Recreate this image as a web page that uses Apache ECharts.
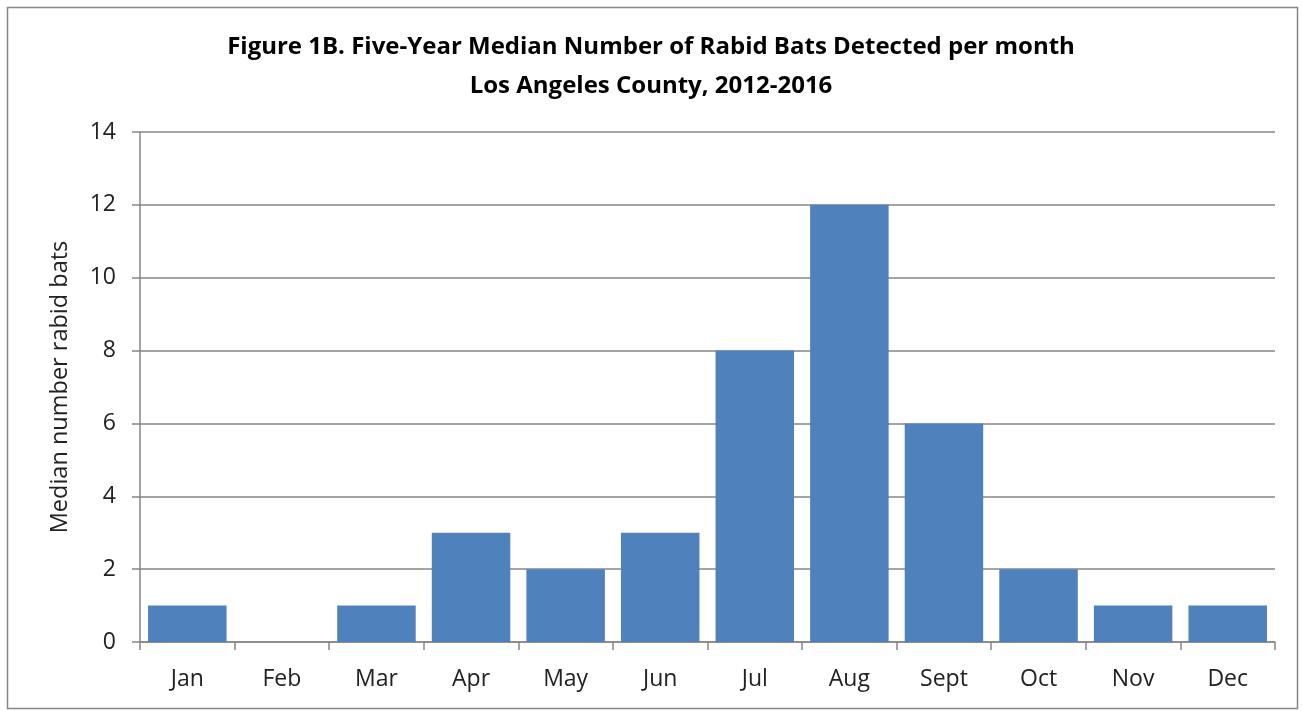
<!DOCTYPE html>
<html><head><meta charset="utf-8">
<script src="https://cdn.jsdelivr.net/npm/echarts@6/dist/echarts.min.js"></script>
<style>html,body{margin:0;padding:0;background:#fff}#c{width:1302px;height:711px}</style>
</head><body><div id="c"></div>
<script>
const categories = ['Jan','Feb','Mar','Apr','May','Jun','Jul','Aug','Sept','Oct','Nov','Dec'];
const medianBats = [1,0,1,3,2,3,8,12,6,2,1,1];
const yTicks = [0,2,4,6,8,10,12,14];
const titleLines = ['Figure 1B. Five-Year Median Number of Rabid Bats Detected per month','Los Angeles County, 2012-2016'];
const yName = 'Median number rabid bats';

const chart = echarts.init(document.getElementById('c'));
const font = 'Open Sans, Noto Sans, sans-serif';
chart.setOption({
  animation:false,
  backgroundColor:'#fff',
  title:{text:titleLines.join('\n'), left:'center', top:23, textStyle:{fontFamily:font, fontWeight:'bold', fontSize:24, color:'#000', lineHeight:39}},
  graphic:[{type:'rect', shape:{x:7.5,y:7.5,width:1290,height:701}, style:{fill:'none', stroke:'#868686', lineWidth:1.5}, silent:true}],
  grid:{left:140, right:27, top:132, bottom:69},
  xAxis:{type:'category', data:categories, boundaryGap:true,
    axisLine:{lineStyle:{color:'#868686', width:1.5}},
    axisTick:{show:true, length:8, lineStyle:{color:'#868686', width:1.5}},
    axisLabel:{fontFamily:font, fontSize:23, color:'#222', margin:26}},
  yAxis:{type:'value', min:yTicks[0], max:yTicks[yTicks.length-1], interval:2,
    name:yName, nameLocation:'middle', nameGap:68, nameTextStyle:{fontFamily:font, fontSize:23.5, color:'#222'},
    axisLine:{show:true, lineStyle:{color:'#868686', width:1.5}},
    axisTick:{show:true, length:8, lineStyle:{color:'#868686', width:1.5}},
    splitLine:{lineStyle:{color:'#868686', width:1.5}},
    axisLabel:{fontFamily:font, fontSize:23, color:'#222', margin:24}},
  series:[{type:'bar', data:medianBats, barCategoryGap:'17%', z:1, itemStyle:{color:'#4F81BD', borderWidth:0}}]
});
</script></body></html>
